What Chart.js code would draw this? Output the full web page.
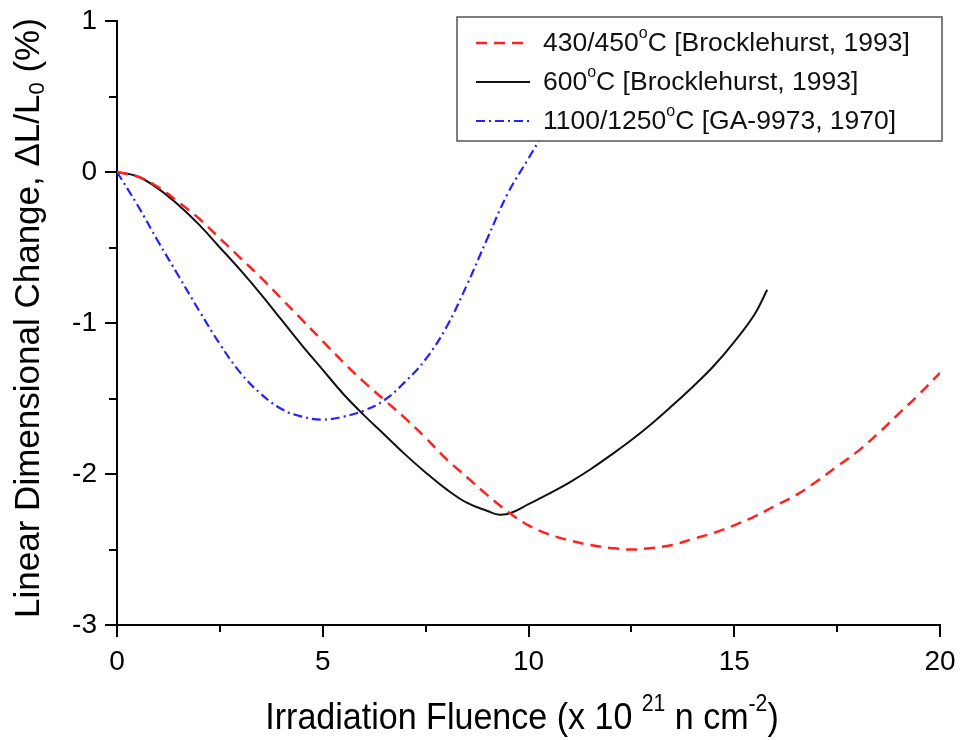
<!DOCTYPE html>
<html><head><meta charset="utf-8">
<script src="https://cdn.jsdelivr.net/npm/chart.js@4/dist/chart.umd.min.js"></script>
<style>html,body{margin:0;padding:0;background:#fff}#wrap{width:961px;height:740px}</style>
</head><body><div id="wrap"><canvas id="c" width="961" height="740"></canvas></div>
<script>
// ---- data ----
const fluence430 = [0,0.5,1,1.5,2,2.5,3,3.5,4,4.5,5,5.5,6,6.5,7,7.5,8,8.5,9,9.5,10,10.5,11,11.5,12,12.5,13,13.5,14,14.5,15,15.5,16,16.5,17,17.5,18,18.5,19,19.5,20];
const change430  = [0,-0.03,-0.1,-0.2,-0.31,-0.44,-0.57,-0.7,-0.84,-0.98,-1.12,-1.26,-1.39,-1.51,-1.63,-1.76,-1.9,-2.02,-2.14,-2.25,-2.34,-2.4,-2.44,-2.47,-2.49,-2.5,-2.49,-2.47,-2.43,-2.39,-2.34,-2.28,-2.21,-2.14,-2.05,-1.95,-1.85,-1.73,-1.6,-1.47,-1.33];
const fluence600 = [0,0.5,1,1.5,2,2.5,3,3.5,4,4.5,5,5.5,6,6.5,7,7.5,8,8.5,9,9.3,9.6,10,10.5,11,11.5,12,12.5,13,13.5,14,14.5,15,15.5,15.8];
const change600  = [0,-0.03,-0.11,-0.22,-0.35,-0.5,-0.65,-0.81,-0.98,-1.15,-1.31,-1.47,-1.61,-1.74,-1.87,-1.99,-2.1,-2.19,-2.245,-2.27,-2.255,-2.2,-2.13,-2.055,-1.97,-1.875,-1.775,-1.665,-1.545,-1.42,-1.285,-1.125,-0.94,-0.78];
const fluence1100 = [0,0.5,1,1.5,2,2.5,3,3.5,4,4.5,5,5.5,6,6.5,7,7.5,8,8.5,9,9.5,10,10.5,11,11.5];
const change1100  = [0,-0.22,-0.46,-0.69,-0.92,-1.14,-1.33,-1.47,-1.57,-1.62,-1.64,-1.62,-1.58,-1.51,-1.39,-1.24,-1.03,-0.75,-0.44,-0.14,0.09,0.32,0.55,0.78];
const seriesLabels = ['430/450°C [Brocklehurst, 1993]','600°C [Brocklehurst, 1993]','1100/1250°C [GA-9973, 1970]'];
const xTickValues = [0,5,10,15,20];
const yTickValues = [-3,-2,-1,0,1];
const xMinorStep = 2.5;
const yMinorStep = 0.5;

const FONT = '"Liberation Sans", Arial, sans-serif';
const pts = (xs, ys) => xs.map((x, i) => ({x, y: ys[i]}));

function drawRich(ctx, parts, x, y, align) {
  let total = 0;
  parts.forEach(p => { ctx.font = p.size + 'px ' + FONT; p.w = ctx.measureText(p.t).width; total += p.w; });
  let cx = align === 'center' ? x - total / 2 : x;
  ctx.textBaseline = 'middle';
  ctx.textAlign = 'left';
  parts.forEach(p => { ctx.font = p.size + 'px ' + FONT; ctx.fillText(p.t, cx, y + (p.dy || 0)); cx += p.w; });
}
function labelParts(s, size) {
  const i = s.indexOf('°');
  return [{t: s.slice(0, i), size}, {t: 'o', size: Math.round(size * 0.6), dy: -size * 0.38}, {t: s.slice(i + 1), size}];
}

const styles = [
  {color: '#ff2222', dash: [11, 7], width: 2.5},
  {color: '#111111', dash: [], width: 2},
  {color: '#2222ff', dash: [9, 4, 2, 4], width: 2.2}
];

const decor = {
  id: 'decor',
  afterDraw(chart) {
    const ctx = chart.ctx, xs = chart.scales.x, ys = chart.scales.y, a = chart.chartArea;
    ctx.save();
    ctx.strokeStyle = '#000'; ctx.lineWidth = 2; ctx.setLineDash([]);
    // y ticks (outward, left)
    for (let v = ys.min; v <= ys.max + 1e-9; v += yMinorStep) {
      const py = Math.round(ys.getPixelForValue(v));
      const len = Number.isInteger(v) ? 12 : 8;
      ctx.beginPath(); ctx.moveTo(a.left - len, py); ctx.lineTo(a.left, py); ctx.stroke();
    }
    // x ticks (outward, down)
    for (let v = xs.min; v <= xs.max + 1e-9; v += xMinorStep) {
      const px = Math.round(xs.getPixelForValue(v));
      const len = (v % 5 === 0) ? 12 : 7;
      ctx.beginPath(); ctx.moveTo(px, a.bottom); ctx.lineTo(px, a.bottom + len); ctx.stroke();
    }
    ctx.fillStyle = '#000';
    // x title (slightly condensed, as in the reference)
    ctx.save();
    ctx.translate(522, 719);
    ctx.scale(0.92, 1);
    drawRich(ctx, [
      {t: 'Irradiation Fluence (x 10 ', size: 37},
      {t: '21', size: 23, dy: -14},
      {t: ' n cm', size: 37},
      {t: '-2', size: 23, dy: -14},
      {t: ')', size: 37}
    ], 0, 0, 'center');
    ctx.restore();
    // y title
    ctx.save();
    ctx.translate(29, 318);
    ctx.rotate(-Math.PI / 2);
    drawRich(ctx, [
      {t: 'Linear Dimensional Change, \u0394L/L', size: 35},
      {t: '0', size: 22, dy: 9},
      {t: ' (%)', size: 35}
    ], 0, 0, 'center');
    ctx.restore();
    // legend
    const lx = 457, ly = 17, lw = 485, lh = 124;
    ctx.fillStyle = '#fff';
    ctx.fillRect(lx, ly, lw, lh);
    ctx.strokeStyle = '#555'; ctx.lineWidth = 1.5;
    ctx.strokeRect(lx, ly, lw, lh);
    const rows = [43, 82, 121];
    chart.data.datasets.forEach((ds, i) => {
      const st = styles[i];
      ctx.strokeStyle = st.color; ctx.lineWidth = st.width; ctx.setLineDash(st.dash);
      ctx.beginPath(); ctx.moveTo(476, rows[i]); ctx.lineTo(530, rows[i]); ctx.stroke();
      ctx.setLineDash([]);
      ctx.fillStyle = '#111';
      drawRich(ctx, labelParts(ds.label, 26.5), 543, rows[i] + 1, 'left');
    });
    ctx.restore();
  }
};

new Chart(document.getElementById('c'), {
  type: 'line',
  data: {
    datasets: [
      {label: seriesLabels[0], data: pts(fluence430, change430)},
      {label: seriesLabels[1], data: pts(fluence600, change600)},
      {label: seriesLabels[2], data: pts(fluence1100, change1100)}
    ].map((d, i) => Object.assign(d, {
      borderColor: styles[i].color, borderDash: styles[i].dash, borderWidth: styles[i].width,
      pointRadius: 0, fill: false, tension: 0.4
    }))
  },
  options: {
    responsive: false, animation: false, devicePixelRatio: 1,
    layout: {padding: {top: 21, right: 21, left: 0, bottom: 0}},
    plugins: {legend: {display: false}, tooltip: {enabled: false}},
    scales: {
      x: {
        type: 'linear', min: 0, max: 20,
        afterBuildTicks: s => { s.ticks = xTickValues.map(v => ({value: v})); },
        ticks: {font: {family: FONT, size: 28}, color: '#000', padding: 20, maxRotation: 0, autoSkip: false},
        grid: {display: false, drawTicks: false},
        border: {display: true, color: '#000', width: 2},
        afterFit: s => { s.height = 115; s.paddingLeft = 0; s.paddingRight = 0; }
      },
      y: {
        type: 'linear', min: -3, max: 1,
        afterBuildTicks: s => { s.ticks = yTickValues.map(v => ({value: v})); },
        ticks: {font: {family: FONT, size: 28}, color: '#000', padding: 20, autoSkip: false},
        grid: {display: false, drawTicks: false},
        border: {display: true, color: '#000', width: 2},
        afterFit: s => { s.width = 117; s.paddingTop = 0; s.paddingBottom = 0; }
      }
    }
  },
  plugins: [decor]
});
</script></body></html>
